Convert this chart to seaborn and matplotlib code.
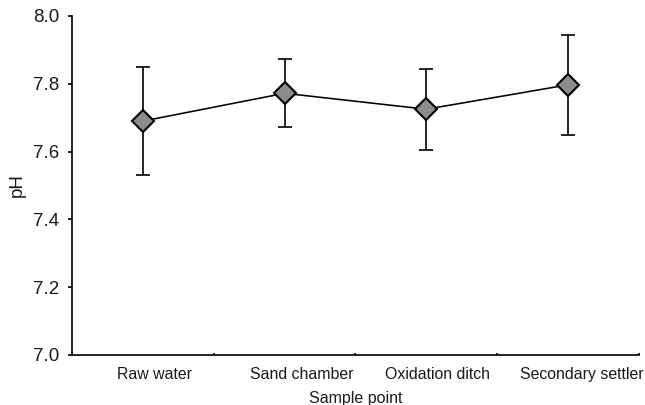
import matplotlib
matplotlib.use("Agg")
import matplotlib.pyplot as plt
import matplotlib.transforms as mtransforms
import seaborn as sns
import numpy as np
import pandas as pd
from matplotlib.ticker import FixedLocator

# ---- data ----
categories = ["Raw water", "Sand chamber", "Oxidation ditch", "Secondary settler"]
ph_mean = [7.69, 7.772, 7.725, 7.797]
ph_err = [0.16, 0.10, 0.12, 0.148]
y_ticks = [7.0, 7.2, 7.4, 7.6, 7.8, 8.0]

sns.set_theme(style="ticks")
plt.rcParams["font.family"] = ["Liberation Sans", "DejaVu Sans"]
text_color = "#1a1a1a"

df = pd.DataFrame({"point": categories, "pH": ph_mean, "err": ph_err})

fig = plt.figure(figsize=(6.45, 4.05), dpi=100)
ax = fig.add_axes([0.1116, 0.1235, 0.879, 0.837])

xpos = np.arange(len(categories))
ax.errorbar(xpos, df["pH"], yerr=df["err"], fmt="none", ecolor="black",
            elinewidth=1.2, capsize=4.8, capthick=1.2, zorder=2)

sns.pointplot(data=df, x="point", y="pH", order=categories, ax=ax,
              errorbar=None, color="black", markers="D", linestyles="-",
              markersize=11.3, markerfacecolor="#8c8c8c",
              markeredgecolor="black", markeredgewidth=1.5,
              linewidth=1.15, zorder=3)

ax.set_xlim(-0.5, len(categories) - 0.5)
ax.set_ylim(7.0, 8.0)
ax.set_yticks(y_ticks)
ax.set_yticklabels([f"{v:.1f}" for v in y_ticks])

ax.set_xticks(xpos)
ax.set_xticklabels(categories)
ax.xaxis.set_minor_locator(FixedLocator(np.arange(-0.5, len(categories), 1.0)))
ax.tick_params(axis="x", which="major", length=0, pad=9, labelsize=11.4,
               labelcolor=text_color)
ax.tick_params(axis="x", which="minor", length=1.8, width=1.2, direction="in",
               color="black", bottom=True)
ax.tick_params(axis="y", which="major", length=3.2, width=1.2, direction="out",
               pad=6, labelsize=13.5, labelcolor=text_color, color="black")

# the reference places category labels slightly right of the point centres
label_shift_px = [11.5, 17, 11.5, 14]
for lab, dx in zip(ax.get_xticklabels(), label_shift_px):
    lab.set_transform(lab.get_transform() +
                      mtransforms.ScaledTranslation(dx / 100, 0, fig.dpi_scale_trans))

for s in ["top", "right"]:
    ax.spines[s].set_visible(False)
for s in ["left", "bottom"]:
    ax.spines[s].set_linewidth(1.2)
    ax.spines[s].set_color("black")

ax.set_xlabel("Sample point", fontsize=11.5, color=text_color, labelpad=6)
ax.set_ylabel("pH", fontsize=13.5, color=text_color, labelpad=5)

fig.savefig("out.png", dpi=100)
